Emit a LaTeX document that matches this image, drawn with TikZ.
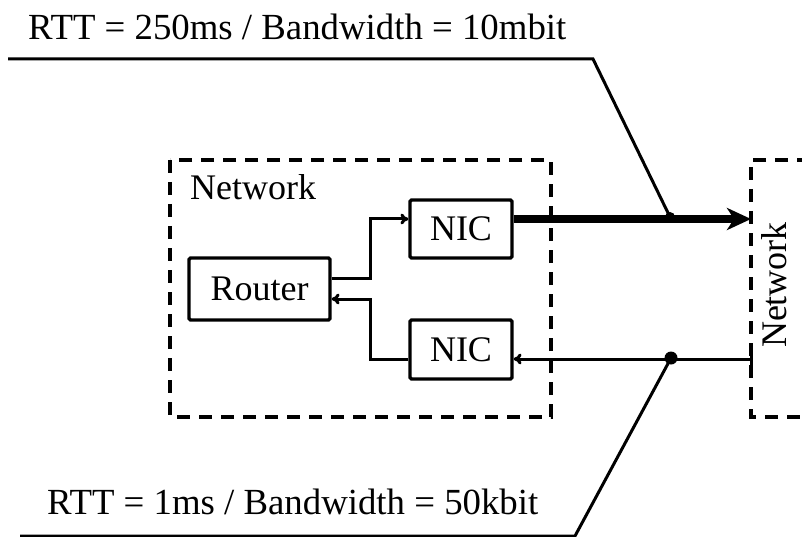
\documentclass[tikz,border=0pt]{standalone}
\usepackage{fontspec}
\setmainfont{Liberation Serif}
\usetikzlibrary{arrows.meta}
\begin{document}
\begin{tikzpicture}[x=1pt,y=-1pt,
  box/.style={draw,line width=3.2pt,rounded corners=1.5pt,minimum width=#1,inner sep=0pt,font=\fontsize{36}{40}\selectfont},
  grp/.style={draw,line width=3.4pt,dash pattern=on 13pt off 9pt},
  wire/.style={line width=3pt},
  lbl/.style={font=\fontsize{36.8}{40}\selectfont,inner sep=0pt,anchor=west},
  dot/.style={circle,fill,inner sep=0pt,minimum size=#1}]
\useasboundingbox (0,0) rectangle (802,537);
% groups
\draw[grp] (170,160) rectangle (551,417);
\draw[grp] (810,160) -- (751,160) -- (751,417) -- (810,417);
\node[font=\fontsize{36}{40}\selectfont,inner sep=0pt,anchor=west] (netA) at (190,187) {Network};
\node[font=\fontsize{36}{40}\selectfont,inner sep=0pt,rotate=90] (netB) at (774,285) {Network};
% boxes
\node[box, minimum width=141pt, minimum height=62pt] (router) at (259.5,289) {Router};
\node[box, minimum width=102pt, minimum height=58pt] (nic1) at (461,229) {NIC};
\node[box, minimum width=102pt, minimum height=59pt] (nic2) at (461,349.5) {NIC};
% coordinates
\coordinate (r1) at (router.east |- 0,278);
\coordinate (r2) at (router.east |- 0,299);
\coordinate (n1) at (nic1.west |- 0,219);
\coordinate (n1e) at (nic1.east |- 0,219);
\coordinate (n2) at (nic2.west |- 0,359);
\coordinate (n2e) at (nic2.east |- 0,359);
\coordinate (ext1) at (751,219);
\coordinate (ext2) at (751,359);
\node[dot=10pt] (d1) at (670,217) {};
\node[dot=13pt] (d2) at (671,358) {};
% internal wires
\draw[wire,-{To[length=8pt,width=11pt]}] (r1) -- (370,278) -- (370,219) -- (n1);
\draw[wire,-{To[length=8pt,width=11pt]}] (n2) -- (370,359) -- (370,299) -- (r2);
% external
\draw[line width=8pt,-{Stealth[length=24pt,width=22pt,inset=7pt]}] (n1e) -- (ext1);
\draw[wire,-{To[length=8pt,width=11pt]}] (ext2) -- (n2e);
\draw[wire] (ext2) ++(0,-7) -- ++(0,14);
% labels
\node[lbl] (top) at (28,27) {RTT = 250ms / Bandwidth = 10mbit};
\node[lbl] (bot) at (47,502) {RTT = 1ms / Bandwidth = 50kbit};
\draw[wire] (8,59) -- (593,59) -- (d1.center);
\draw[wire] (20,536) -- (575,536) -- (d2.center);
\end{tikzpicture}
\end{document}
